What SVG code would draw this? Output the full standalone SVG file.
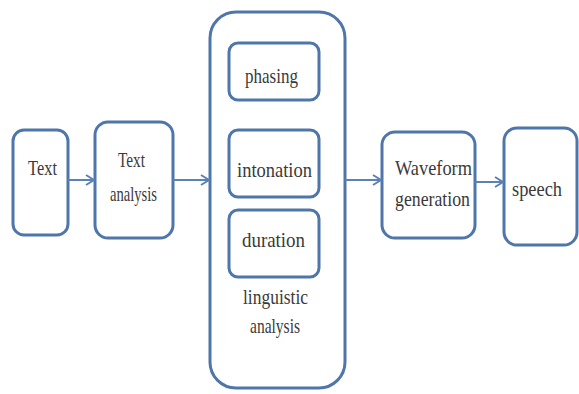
<svg xmlns="http://www.w3.org/2000/svg" width="579" height="394" viewBox="0 0 579 394">
<style>
.box{fill:#fff;stroke:#4f76aa;stroke-width:3}
.t{font-size:21px;fill:#3a3a3a}
.c{stroke:#5a82b6;stroke-width:2;fill:none;marker-end:url(#a)}
</style>
<defs>
<marker id="a" markerWidth="12" markerHeight="12" refX="10" refY="6" orient="auto" markerUnits="userSpaceOnUse">
<path d="M2,1 L10,6 L2,11" fill="none" stroke="#5a82b6" stroke-width="2"/>
</marker>
</defs>
<rect width="579" height="394" fill="#fff"/>
<g font-family="Liberation Serif, Times New Roman, serif">
<g id="text"><rect class="box" x="13" y="130" width="55" height="105" rx="11"/><text class="t" x="28" y="175" textLength="29" lengthAdjust="spacingAndGlyphs" fill="#5a6a80">Text</text></g>
<g id="text-analysis"><rect class="box" x="95" y="122" width="78" height="116" rx="13"/><text class="t" x="118" y="167" textLength="27" lengthAdjust="spacingAndGlyphs">Text</text><text class="t" x="110" y="201" textLength="47" lengthAdjust="spacingAndGlyphs">analysis</text></g>
<g id="linguistic-analysis"><rect class="box" x="210" y="12" width="135" height="376" rx="26"/><text class="t" x="243" y="304" textLength="65" lengthAdjust="spacingAndGlyphs">linguistic</text><text class="t" x="250" y="333" textLength="50" lengthAdjust="spacingAndGlyphs">analysis</text></g>
<g id="phasing"><rect class="box" x="229" y="43" width="90" height="57" rx="9"/><text class="t" x="245" y="83" textLength="53" lengthAdjust="spacingAndGlyphs">phasing</text></g>
<g id="intonation"><rect class="box" x="229" y="130" width="90" height="67" rx="9"/><text class="t" x="237" y="177" textLength="75" lengthAdjust="spacingAndGlyphs">intonation</text></g>
<g id="duration"><rect class="box" x="229" y="210" width="90" height="67" rx="9"/><text class="t" x="242" y="247" textLength="63" lengthAdjust="spacingAndGlyphs">duration</text></g>
<g id="waveform"><rect class="box" x="382" y="132" width="93" height="106" rx="13"/><text class="t" x="395" y="175" textLength="77" lengthAdjust="spacingAndGlyphs">Waveform</text><text class="t" x="395" y="206" textLength="75" lengthAdjust="spacingAndGlyphs">generation</text></g>
<g id="speech"><rect class="box" x="504" y="128" width="73" height="117" rx="13"/><text class="t" x="512" y="196" textLength="50" lengthAdjust="spacingAndGlyphs">speech</text></g>
</g>
<g id="connectors">
<line class="c" x1="68" y1="180" x2="94" y2="180"/>
<line class="c" x1="173" y1="180" x2="209" y2="180"/>
<line class="c" x1="345" y1="180" x2="381" y2="180"/>
<line class="c" x1="475" y1="182" x2="503" y2="182"/>
</g>
</svg>
